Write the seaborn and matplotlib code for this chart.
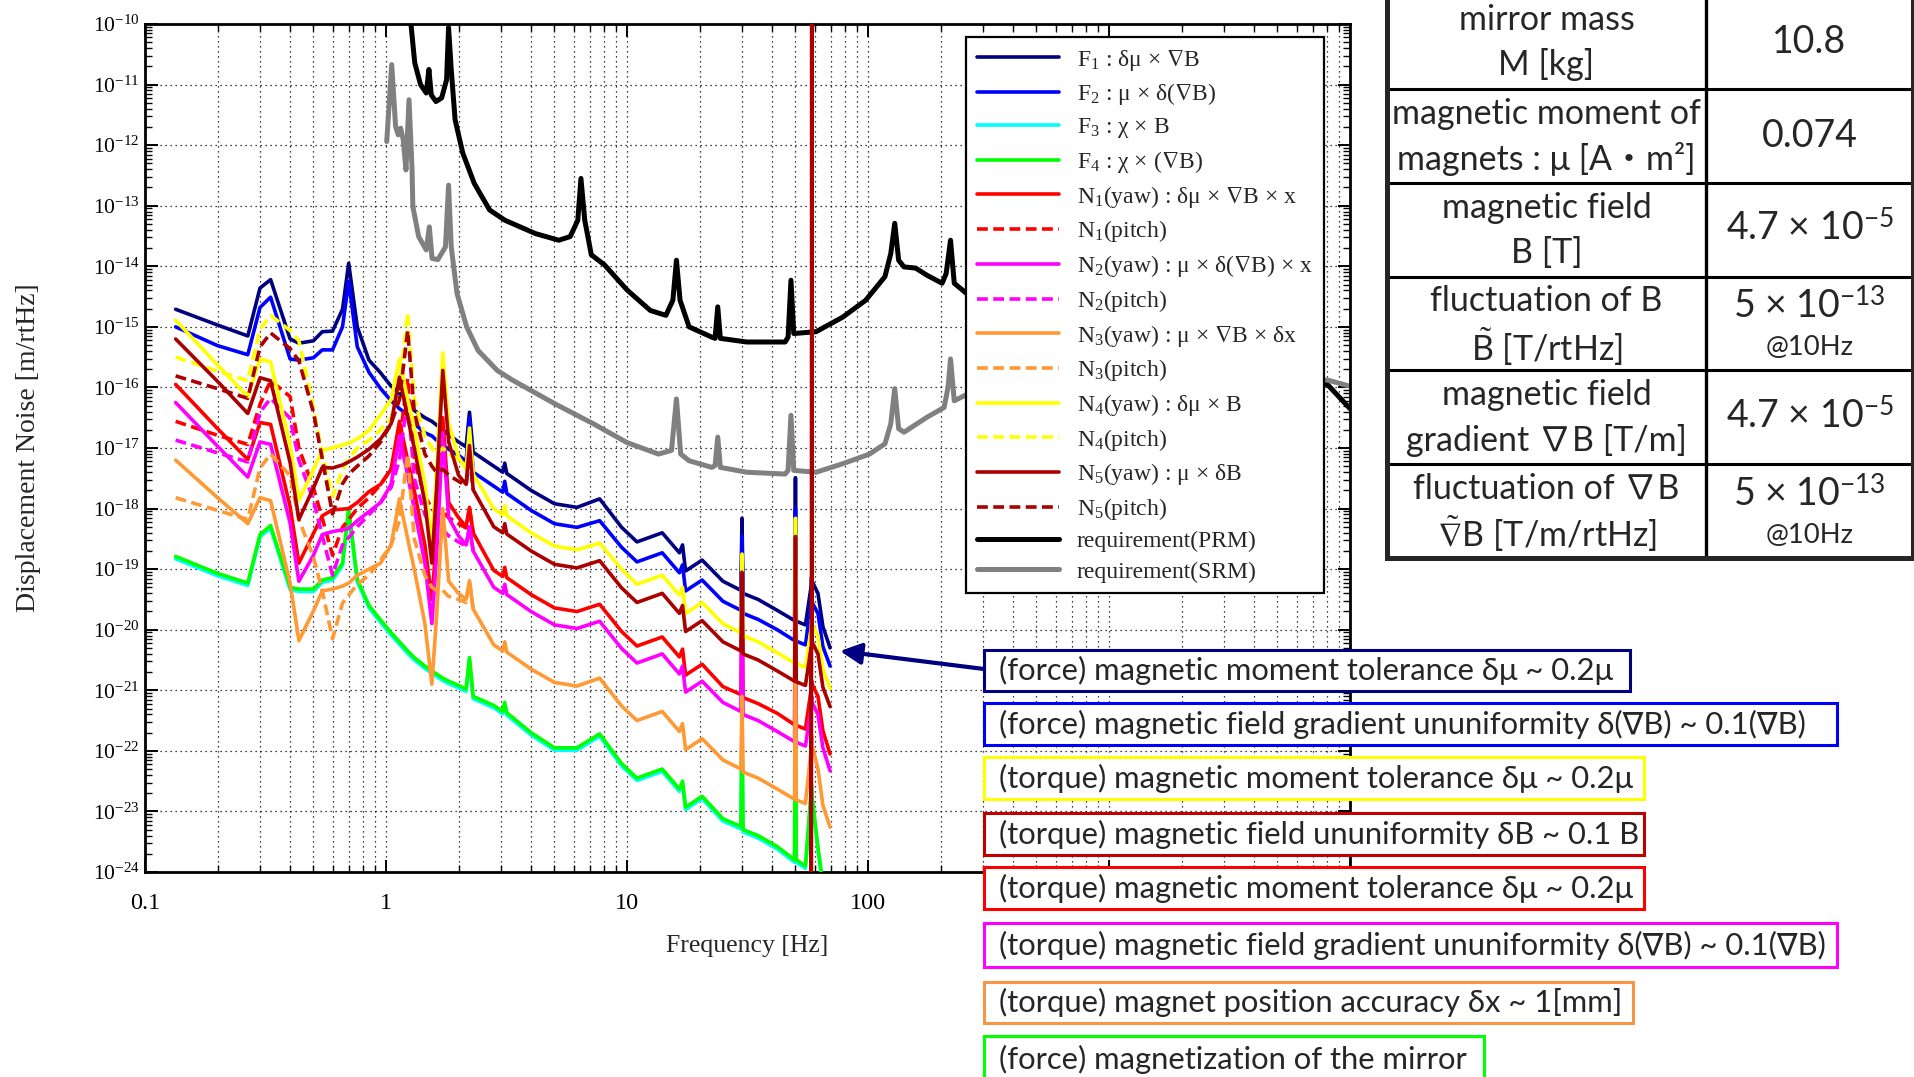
import numpy as np
import matplotlib
matplotlib.use('Agg')
import matplotlib.pyplot as plt
import seaborn as sns
from matplotlib import font_manager
from matplotlib.patches import Rectangle
from matplotlib.ticker import (LogLocator, FixedLocator, FixedFormatter, NullFormatter,
                               LogFormatterSciNotation)

# %% data
# frequency grid shared by the noise curves [Hz]
freq = [0.134, 0.2, 0.267, 0.3, 0.332, 0.4, 0.435, 0.5, 0.544, 0.6,
        0.66, 0.7, 0.76, 0.85, 0.95, 1.05, 1.137, 1.23, 1.31, 1.45,
        1.55, 1.62, 1.72, 1.82, 2.0, 2.15, 2.22, 2.3, 2.8, 3.05,
        3.11, 3.17, 4.0, 5.0, 6.2, 7.7, 9.5, 11.0, 14.0, 16.5,
        17.0, 17.5, 20.5, 25.0, 29.7, 30.0, 30.3, 35.0, 42.0, 49.6,
        50.0, 50.4, 55.0, 58.0, 58.2, 58.4, 58.6, 62.0, 65.0, 69.6]

# log10 of displacement noise [m/rtHz]
f1 = [-14.71, -14.97, -15.15, -14.36, -14.22, -15.2, -15.27, -15.23, -15.08, -15.07,
      -14.71, -13.95, -15.0, -15.55, -15.76, -15.98, -16.1, -16.2, -16.38, -16.5,
      -16.56, -16.62, -16.7, -16.78, -16.9, -16.98, -16.41, -17.07, -17.3, -17.4,
      -17.25, -17.42, -17.7, -17.92, -17.98, -17.84, -18.31, -18.55, -18.4, -18.73,
      -18.6, -19.03, -18.85, -19.2, -19.35, -18.16, -19.4, -19.5, -19.68, -19.85,
      -17.49, -19.86, -19.92, -19.3, -19.15, -19.12, -19.2, -19.4, -19.95, -20.3]
f2 = [-15.0, -15.31, -15.46, -14.68, -14.51, -15.53, -15.55, -15.51, -15.38, -15.38,
      -15.0, -14.25, -15.33, -15.75, -16.02, -16.22, -16.35, -16.45, -16.6, -16.75,
      -16.8, -16.87, -16.95, -17.02, -17.12, -17.22, -16.5, -17.4, -17.63, -17.73,
      -17.55, -17.75, -18.03, -18.25, -18.31, -18.2, -18.64, -18.88, -18.73, -19.06,
      -18.93, -19.36, -19.18, -19.53, -19.68, -18.45, -19.73, -19.83, -20.0, -20.18,
      -18.0, -20.19, -20.25, -19.6, -19.48, -19.45, -19.55, -19.73, -20.28, -20.6]
f3 = [-18.83, -19.11, -19.27, -18.47, -18.32, -19.34, -19.37, -19.37, -19.22, -19.18,
      -18.94, -18.04, -19.21, -19.64, -19.88, -20.09, -20.24, -20.39, -20.5, -20.64,
      -20.72, -20.77, -20.84, -20.89, -20.96, -21.02, -20.5, -21.14, -21.29, -21.39,
      -21.24, -21.41, -21.74, -21.99, -21.99, -21.76, -22.25, -22.49, -22.34, -22.67,
      -22.54, -22.97, -22.79, -23.16, -23.29, -21.54, -23.34, -23.44, -23.62, -23.84,
      -20.04, -23.84, -23.94, -22.74, -22.59, -22.64, -22.79, -23.64, -24.24, -24.64]
f4 = [-18.79, -19.07, -19.23, -18.43, -18.28, -19.3, -19.33, -19.33, -19.18, -19.14,
      -18.9, -18.0, -19.17, -19.6, -19.84, -20.05, -20.2, -20.35, -20.46, -20.6,
      -20.68, -20.73, -20.8, -20.85, -20.92, -20.98, -20.46, -21.1, -21.25, -21.35,
      -21.2, -21.37, -21.7, -21.95, -21.95, -21.72, -22.21, -22.45, -22.3, -22.63,
      -22.5, -22.93, -22.75, -23.12, -23.25, -21.5, -23.3, -23.4, -23.58, -23.8,
      -20.0, -23.8, -23.9, -22.7, -22.55, -22.6, -22.75, -23.6, -24.2, -24.6]
n1_yaw = [-15.95, -16.68, -17.19, -16.58, -16.61, -17.97, -18.9, -18.41, -18.12, -18.02,
          -18.01, -18.0, -17.9, -17.72, -17.6, -17.35, -16.56, -17.2, -17.7, -18.6,
          -19.5, -18.5, -16.5, -17.9, -18.15, -18.3, -17.98, -18.4, -19.02, -19.12,
          -18.97, -19.14, -19.42, -19.64, -19.7, -19.58, -20.03, -20.27, -20.12, -20.45,
          -20.32, -20.75, -20.57, -20.94, -21.07, -19.2, -21.12, -21.22, -21.38, -21.57,
          -18.8, -21.58, -21.64, -21.0, -20.9, -20.85, -20.9, -21.1, -21.67, -22.05]
n2_yaw = [-16.25, -16.97, -17.48, -16.9, -16.94, -18.24, -19.2, -18.77, -18.43, -18.38,
          -18.35, -18.33, -18.2, -18.05, -17.9, -17.6, -16.8, -17.45, -18.0, -18.9,
          -19.9, -18.8, -16.75, -18.15, -18.45, -18.6, -18.3, -18.7, -19.3, -19.4,
          -19.25, -19.42, -19.7, -19.92, -19.98, -19.86, -20.31, -20.55, -20.4, -20.73,
          -20.6, -21.03, -20.85, -21.2, -21.35, -19.3, -21.4, -21.5, -21.68, -21.85,
          -18.9, -21.86, -21.92, -21.3, -21.15, -21.1, -21.2, -21.4, -21.95, -22.33]
n3_yaw = [-17.2, -17.82, -18.25, -17.82, -17.87, -19.23, -20.18, -19.69, -19.36, -19.33,
          -19.28, -19.23, -19.1, -19.0, -18.9, -18.6, -17.84, -18.5, -19.0, -19.9,
          -20.9, -19.8, -18.0, -19.2, -19.4, -19.5, -19.19, -19.66, -20.25, -20.35,
          -20.2, -20.37, -20.65, -20.87, -20.93, -20.8, -21.26, -21.5, -21.35, -21.68,
          -21.55, -21.98, -21.8, -22.15, -22.3, -21.1, -22.35, -22.45, -22.63, -22.8,
          -19.6, -22.81, -22.87, -22.0, -21.8, -21.75, -21.9, -22.3, -22.9, -23.26]
n4_yaw = [-14.89, -15.63, -16.15, -15.53, -15.58, -16.95, -17.86, -17.36, -17.04, -17.0,
          -16.95, -16.92, -16.85, -16.71, -16.45, -16.2, -15.53, -16.2, -16.67, -17.6,
          -18.6, -17.4, -15.43, -16.6, -17.15, -17.35, -16.67, -17.43, -18.0, -18.1,
          -17.95, -18.12, -18.4, -18.62, -18.68, -18.57, -19.0, -19.25, -19.1, -19.43,
          -19.3, -19.73, -19.55, -19.9, -20.05, -18.75, -20.1, -20.2, -20.38, -20.55,
          -18.16, -20.56, -20.62, -20.0, -19.85, -19.82, -19.9, -20.1, -20.65, -20.97]
n5_yaw = [-15.2, -15.9, -16.43, -15.84, -15.89, -17.24, -18.18, -17.66, -17.32, -17.33,
          -17.28, -17.23, -17.15, -17.02, -16.85, -16.6, -15.83, -16.5, -17.0, -17.9,
          -18.9, -17.7, -15.72, -16.9, -17.45, -17.6, -16.96, -17.69, -18.3, -18.4,
          -18.25, -18.42, -18.7, -18.92, -18.98, -18.86, -19.31, -19.55, -19.4, -19.73,
          -19.6, -20.03, -19.85, -20.2, -20.35, -19.05, -20.4, -20.5, -20.68, -20.85,
          -18.46, -20.86, -20.92, -20.3, -26.0, -8.0, -20.2, -20.4, -20.95, -21.27]

# pitch curves: first 28 grid points, they merge with the yaw curves above ~2.3 Hz
n1_pitch = [-16.56, -16.79, -16.94, -16.28, -15.89, -16.15, -17.0, -17.66, -18.16, -18.77,
            -18.31, -18.18, -18.0, -17.82, -17.6, -17.35, -16.9, -15.85, -17.2, -17.8,
            -18.0, -18.1, -18.05, -18.15, -18.25, -18.32, -18.0, -18.4]
n2_pitch = [-16.87, -17.08, -17.23, -16.41, -16.18, -16.51, -17.2, -17.86, -18.45, -19.1,
            -18.6, -18.48, -18.3, -18.1, -17.9, -17.65, -17.2, -16.15, -17.5, -18.1,
            -18.3, -18.4, -18.35, -18.45, -18.55, -18.62, -18.3, -18.7]
n3_pitch = [-17.82, -18.03, -18.18, -17.33, -17.1, -17.46, -18.18, -18.8, -19.36, -20.15,
            -19.56, -19.43, -19.25, -19.1, -18.85, -18.6, -18.2, -17.1, -18.5, -19.1,
            -19.3, -19.35, -19.35, -19.45, -19.5, -19.55, -19.2, -19.66]
n4_pitch = [-15.5, -15.73, -15.89, -15.04, -14.81, -15.06, -15.23, -16.34, -17.1, -17.8,
            -17.37, -17.17, -17.0, -16.87, -16.7, -16.5, -16.0, -14.77, -16.2, -16.8,
            -17.0, -17.1, -17.0, -17.1, -17.2, -17.3, -16.8, -17.43]
n5_pitch = [-15.81, -16.02, -16.18, -15.33, -15.1, -15.36, -15.56, -16.41, -17.18, -18.09,
            -17.59, -17.43, -17.3, -17.13, -16.9, -16.6, -16.2, -15.06, -16.4, -17.1,
            -17.3, -17.4, -17.35, -17.45, -17.55, -17.62, -17.1, -17.69]

# requirement curves
prm_freq = [1.2, 1.269, 1.316, 1.391, 1.469, 1.507, 1.541, 1.611, 1.702, 1.784,
            1.818, 1.865, 1.935, 2.082, 2.323, 2.69, 3.115, 4.17, 5.21, 5.81,
            6.25, 6.44, 6.68, 7.11, 8.08, 10.0, 12.5, 14.5, 15.5, 16.04,
            16.6, 18.1, 22.5, 23.2, 23.8, 24.4, 31.4, 45.3, 46.6, 47.9,
            49.2, 60.9, 78.5, 97.9, 117.6, 124.3, 129.1, 134.0, 141.0, 157.7,
            176.0, 203.0, 211.0, 220.0, 228.0, 262.0, 500.0, 1000.0, 3000.0, 8100.0, 10000.0]
prm_noise = [-9.0, -10.0, -10.64, -11.0, -11.14, -10.75, -11.17, -11.28, -11.22, -10.92,
             -10.06, -10.75, -11.58, -12.13, -12.63, -13.07, -13.24, -13.46, -13.57, -13.51,
             -13.24, -12.55, -13.24, -13.81, -13.98, -14.39, -14.73, -14.81, -14.56, -13.9,
             -14.56, -15.0, -15.17, -15.19, -14.67, -15.19, -15.25, -15.25, -15.17, -14.23,
             -15.11, -15.08, -14.84, -14.56, -14.17, -13.79, -13.29, -13.9, -14.01, -14.03,
             -14.15, -14.28, -14.12, -13.57, -14.28, -14.48, -14.8, -15.1, -15.5, -15.96, -16.35]
srm_freq = [1.007, 1.056, 1.096, 1.124, 1.15, 1.179, 1.21, 1.246, 1.283, 1.292,
            1.366, 1.469, 1.513, 1.553, 1.641, 1.765, 1.818, 1.865, 1.971, 2.161,
            2.41, 2.896, 3.35, 5.02, 7.25, 10.0, 13.5, 15.3, 16.04, 16.7,
            18.1, 22.5, 23.2, 23.8, 24.4, 31.4, 45.3, 46.6, 47.9, 49.2,
            60.9, 78.5, 101.5, 117.6, 124.3, 129.1, 134.0, 141.0, 176.0, 207.0,
            215.0, 220.0, 228.0, 262.0, 500.0, 1000.0, 3000.0, 8100.0, 10000.0]
srm_noise = [-11.94, -10.67, -11.69, -11.83, -11.72, -11.91, -12.41, -11.25, -12.41, -13.01,
             -13.51, -13.73, -13.35, -13.87, -13.89, -13.68, -12.66, -13.68, -14.45, -15.0,
             -15.39, -15.72, -15.88, -16.27, -16.6, -16.91, -17.1, -17.04, -16.19, -17.1,
             -17.21, -17.32, -17.29, -16.82, -17.32, -17.4, -17.43, -17.37, -16.46, -17.37,
             -17.4, -17.26, -17.1, -16.93, -16.6, -16.02, -16.68, -16.74, -16.49, -16.33,
             -15.99, -15.53, -16.22, -16.1, -15.95, -15.85, -15.8, -15.88, -15.98]

y_decades = [1e-24, 1e-23, 1e-22, 1e-21, 1e-20, 1e-19, 1e-18, 1e-17,
             1e-16, 1e-15, 1e-14, 1e-13, 1e-12, 1e-11, 1e-10]

legend_labels = [
    'F$_{\\mathdefault{1}}$ : δμ × $\\nabla$B',
    'F$_{\\mathdefault{2}}$ : μ × δ($\\nabla$B)',
    'F$_{\\mathdefault{3}}$ : χ × B',
    'F$_{\\mathdefault{4}}$ : χ × ($\\nabla$B)',
    'N$_{\\mathdefault{1}}$(yaw) : δμ × $\\nabla$B × x',
    'N$_{\\mathdefault{1}}$(pitch)',
    'N$_{\\mathdefault{2}}$(yaw) : μ × δ($\\nabla$B) × x',
    'N$_{\\mathdefault{2}}$(pitch)',
    'N$_{\\mathdefault{3}}$(yaw) : μ × $\\nabla$B × δx',
    'N$_{\\mathdefault{3}}$(pitch)',
    'N$_{\\mathdefault{4}}$(yaw) : δμ × B',
    'N$_{\\mathdefault{4}}$(pitch)',
    'N$_{\\mathdefault{5}}$(yaw) : μ × δB',
    'N$_{\\mathdefault{5}}$(pitch)',
    'requirement(PRM)',
    'requirement(SRM)',
]

box_texts = [
    '(force) magnetic moment tolerance δμ ~ 0.2μ',
    '(force) magnetic field gradient ununiformity δ(∇B) ~ 0.1(∇B)',
    '(torque) magnetic moment tolerance δμ ~ 0.2μ',
    '(torque) magnetic field ununiformity δB ~ 0.1 B',
    '(torque) magnetic moment tolerance δμ ~ 0.2μ',
    '(torque) magnetic field gradient ununiformity δ(∇B) ~ 0.1(∇B)',
    '(torque) magnet position accuracy δx ~ 1[mm]',
    '(force) magnetization of the mirror',
]

table_names = [('mirror mass', 'M [kg]'),
               ('magnetic moment of', 'magnets : μ [A・m²]'),
               ('magnetic field', 'B [T]'),
               ('fluctuation of B', '$\\tilde{\\mathdefault{B}}$ [T/rtHz]'),
               ('magnetic field', 'gradient ∇B [T/m]'),
               ('fluctuation of ∇B', '$\\tilde{\\nabla}\\mathdefault{B}$ [T/m/rtHz]')]
table_values = ['10.8', '0.074', '4.7 × 10$^{\\mathdefault{-5}}$', '5 × 10$^{\\mathdefault{-13}}$',
                '4.7 × 10$^{\\mathdefault{-5}}$', '5 × 10$^{\\mathdefault{-13}}$']
table_notes = ['', '', '', '@10Hz', '', '@10Hz']

# %% style
sns.set_style('ticks')
plt.rcParams['font.family'] = ['Liberation Serif', 'DejaVu Serif']
plt.rcParams['mathtext.fontset'] = 'custom'
plt.rcParams['mathtext.rm'] = 'Liberation Serif'
plt.rcParams['mathtext.it'] = 'Liberation Serif:italic'
plt.rcParams['mathtext.bf'] = 'Liberation Serif:bold'
plt.rcParams['mathtext.fallback'] = 'stix'

names = {f.name for f in font_manager.fontManager.ttflist}
box_family = ['Liberation Sans Narrow', 'DejaVu Sans'] if 'Liberation Sans Narrow' in names else ['Lato', 'DejaVu Sans']
table_family = ['Lato', 'Noto Sans CJK JP', 'DejaVu Sans']

W, H = 1915, 1077
fig = plt.figure(figsize=(W / 100, H / 100), dpi=100, facecolor='white')
ax = fig.add_axes([145 / W, 1 - 872 / H, 1205 / W, 848 / H])
ax.set_xscale('log')
ax.set_yscale('log')

navy, blue, cyan, green = '#000080', '#0000ff', '#00ffff', '#00ff00'
red, magenta, orange, yellow, dred = '#ff0000', '#ff00ff', '#ff9933', '#ffff00', '#aa0000'
dash = (0, (3.0, 1.5))

curves = [
    (f1, navy, '-'), (f2, blue, '-'), (f3, cyan, '-'), (f4, green, '-'),
    (n1_yaw, red, '-'), (n1_pitch, red, dash),
    (n2_yaw, magenta, '-'), (n2_pitch, magenta, dash),
    (n3_yaw, orange, '-'), (n3_pitch, orange, dash),
    (n4_yaw, yellow, '-'), (n4_pitch, yellow, dash),
    (n5_yaw, dred, '-'), (n5_pitch, dred, dash),
]
for (vals, color, ls), lab in zip(curves, legend_labels):
    n = len(vals)
    sns.lineplot(x=freq[:n], y=np.power(10.0, vals), ax=ax, color=color, linestyle=ls,
                 linewidth=2.6, label=lab, estimator=None, sort=False, zorder=3)

sns.lineplot(x=prm_freq, y=np.power(10.0, prm_noise), ax=ax, color='black', linewidth=3.6,
             label=legend_labels[14], estimator=None, sort=False, zorder=2.5)
sns.lineplot(x=srm_freq, y=np.power(10.0, srm_noise), ax=ax, color='#808080', linewidth=3.6,
             label=legend_labels[15], estimator=None, sort=False, zorder=2.5)

ax.set_xlim(0.1, 1e4)
ax.set_ylim(y_decades[0], y_decades[-1])
ax.xaxis.set_major_locator(FixedLocator([0.1, 1, 10, 100, 1000, 10000]))
ax.xaxis.set_major_formatter(FixedFormatter(['0.1', '1', '10', '100', '', '']))
ax.xaxis.set_minor_locator(LogLocator(base=10, subs=np.arange(2, 10), numticks=100))
ax.xaxis.set_minor_formatter(NullFormatter())
ax.yaxis.set_major_locator(FixedLocator(y_decades))
ax.yaxis.set_major_formatter(LogFormatterSciNotation())
ax.yaxis.set_minor_locator(LogLocator(base=10, subs=np.arange(2, 10), numticks=300))
ax.yaxis.set_minor_formatter(NullFormatter())
ax.tick_params(which='both', direction='in', top=True, right=True, colors='black')
ax.tick_params(which='major', length=9, width=1.4)
ax.tick_params(which='minor', length=5, width=1.0)
ax.tick_params(axis='x', which='major', pad=15, labelsize=17.5)
ax.tick_params(axis='y', which='major', pad=4, labelsize=15.5)
ax.grid(True, which='both', axis='x', color='black', linestyle=(0, (1, 3)), linewidth=0.9)
ax.grid(True, which='major', axis='y', color='black', linestyle=(0, (1, 3)), linewidth=0.9)
ax.set_axisbelow(True)
for sp in ax.spines.values():
    sp.set_linewidth(2.0)
    sp.set_color('black')

ax.set_xlabel('Frequency [Hz]', fontsize=18.5)
ax.set_ylabel('Displacement Noise [m/rtHz]', fontsize=20)
ax.xaxis.set_label_coords(0.5, -0.074)
ax.yaxis.set_label_coords(-0.086, 0.5)

handles, labels = ax.get_legend_handles_labels()
leg = ax.legend(handles, labels, loc='upper left', bbox_to_anchor=(966 / W, 1 - 37 / H),
                bbox_transform=fig.transFigure, borderaxespad=0, fancybox=False, framealpha=1,
                edgecolor='black', prop={'size': 17}, handlelength=3.5, handletextpad=0.75,
                labelspacing=0.37, borderpad=0.45)
leg.get_frame().set_linewidth(1.6)
leg.set_zorder(10)

# %% annotation boxes
renderer = fig.canvas.get_renderer()


def text_width(s, size, family):
    t = fig.text(0, 0, s, fontsize=size, family=family)
    w = t.get_window_extent(renderer=renderer).width
    t.remove()
    return w


box_size = 20 * 811 / text_width(box_texts[1], 20, box_family)
box_colors = [navy, blue, yellow, '#c00000', red, magenta, '#f79646', green]
box_geom = [(984, 650, 1630, 691), (984, 703, 1837, 745), (984, 757, 1644, 799),
            (984, 813, 1644, 855), (984, 867, 1644, 909), (984, 923, 1837, 967),
            (984, 982, 1633, 1023), (984, 1036, 1484, 1082)]
for (x0, y0, x1, y1), col, txt in zip(box_geom, box_colors, box_texts):
    fig.add_artist(Rectangle((x0 / W, 1 - y1 / H), (x1 - x0) / W, (y1 - y0) / H,
                             transform=fig.transFigure, facecolor='white', edgecolor=col,
                             linewidth=2.2, zorder=5))
    fig.text((x0 + 15) / W, 1 - (y0 + y1) / 2 / H, txt, ha='left', va='center',
             fontsize=box_size, family=box_family, zorder=6)

ax.annotate('', xy=(840, H - 651), xytext=(984, H - 669), xycoords='figure pixels',
            textcoords='figure pixels',
            arrowprops=dict(arrowstyle='-|>', color=navy, lw=3, mutation_scale=32,
                            shrinkA=0, shrinkB=0))

# %% parameter table
ax_t = fig.add_axes([1387 / W, 1 - 558 / H, 526 / W, 563 / H])
ax_t.set_xlim(0, 526)
ax_t.set_ylim(563, 0)
ax_t.set_xticks([])
ax_t.set_yticks([])
for sp in ax_t.spines.values():
    sp.set_linewidth(3.6)
row_h = 563 / 6
for k in range(1, 6):
    ax_t.axhline(k * row_h, color='black', lw=2.2)
ax_t.axvline(319, color='black', lw=2.4)

lab_size = 20 * 310 / text_width(table_names[1][0], 20, table_family)
val_size = 20 * 96 / text_width(table_values[1], 20, table_family)
note_size = 20 * 88 / text_width('@10Hz', 20, table_family)
for i, ((l1, l2), val, note) in enumerate(zip(table_names, table_values, table_notes)):
    yc = (i + 0.5) * row_h
    ax_t.text(159.5, yc - 22, l1, ha='center', va='center', fontsize=lab_size, family=table_family)
    ax_t.text(159.5, yc + 23, l2, ha='center', va='center', fontsize=lab_size, family=table_family)
    if note:
        ax_t.text(422.5, i * row_h + 0.33 * row_h, val, ha='center', va='center',
                  fontsize=val_size, family=table_family)
        ax_t.text(422.5, i * row_h + 0.76 * row_h, note, ha='center', va='center',
                  fontsize=note_size, family=table_family)
    else:
        ax_t.text(422.5, yc, val, ha='center', va='center', fontsize=val_size, family=table_family)

fig.savefig('out.png', dpi=100, facecolor='white')
